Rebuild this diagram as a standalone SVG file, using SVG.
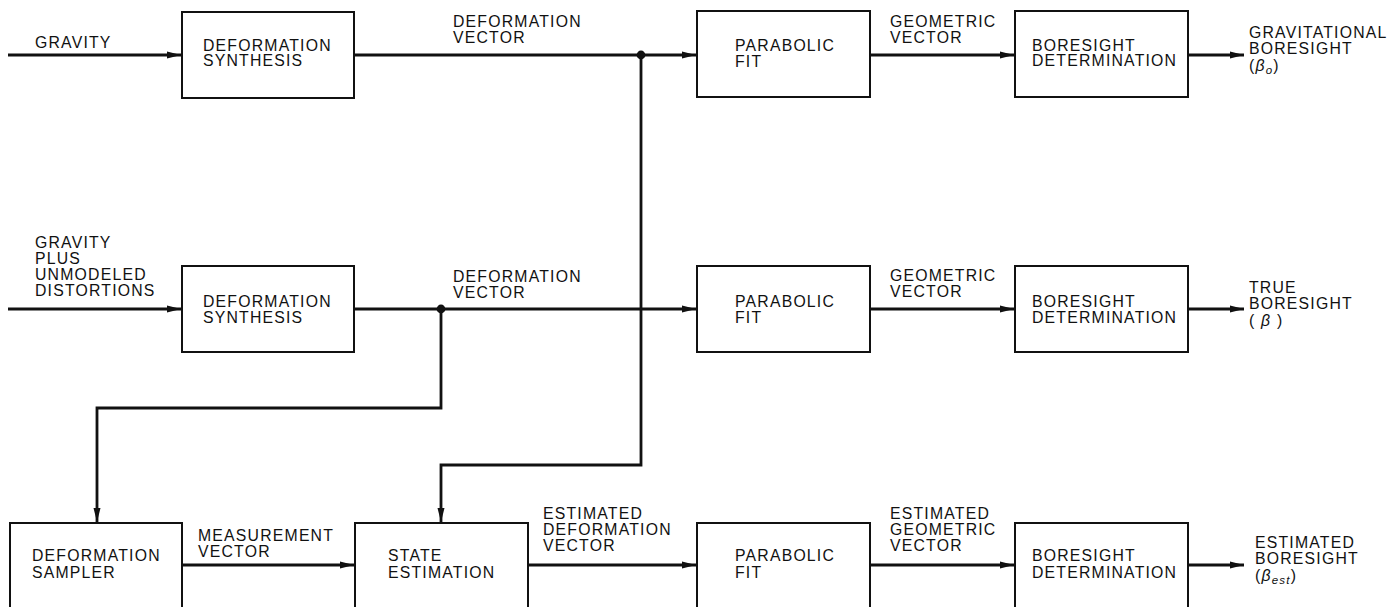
<svg xmlns="http://www.w3.org/2000/svg" width="1400" height="607" viewBox="0 0 1400 607">
<defs>
<style>
text{font-family:"Liberation Sans",Arial,sans-serif;font-size:15.8px;letter-spacing:1.2px;fill:#111}
.box{fill:#fff;stroke:#111;stroke-width:2}
.wire{fill:none;stroke:#111;stroke-width:2.8}
.it{font-style:italic}
.sub{font-size:11.5px;font-style:italic}
</style>
<marker id="ah" markerWidth="15" markerHeight="9" refX="14" refY="4.5" orient="auto" markerUnits="userSpaceOnUse">
<path d="M0,1 L14,4.5 L0,8 z" fill="#111"/>
</marker>
</defs>
<rect width="1400" height="607" fill="#fff"/>

<g id="connectors">
<path class="wire" d="M8,55 H181" marker-end="url(#ah)"/>
<path class="wire" d="M354,55 H696" marker-end="url(#ah)"/>
<path class="wire" d="M870,55 H1014" marker-end="url(#ah)"/>
<path class="wire" d="M1188,55 H1244" marker-end="url(#ah)"/>
<path class="wire" d="M8,309 H181" marker-end="url(#ah)"/>
<path class="wire" d="M354,309 H696" marker-end="url(#ah)"/>
<path class="wire" d="M870,309 H1014" marker-end="url(#ah)"/>
<path class="wire" d="M1188,309 H1244" marker-end="url(#ah)"/>
<path class="wire" d="M182,565 H354" marker-end="url(#ah)"/>
<path class="wire" d="M528,565 H696" marker-end="url(#ah)"/>
<path class="wire" d="M870,565 H1014" marker-end="url(#ah)"/>
<path class="wire" d="M1188,565 H1244" marker-end="url(#ah)"/>
<path class="wire" d="M441,309 V408 H97 V522" marker-end="url(#ah)"/>
<path class="wire" d="M641,55 V465 H441 V522" marker-end="url(#ah)"/>
<circle cx="641" cy="55" r="4.4" fill="#111"/>
<circle cx="441" cy="309" r="4.4" fill="#111"/>
<text x="35" y="48">GRAVITY</text>
<text x="453" y="27">DEFORMATION</text>
<text x="453" y="43">VECTOR</text>
<text x="890" y="27">GEOMETRIC</text>
<text x="890" y="43">VECTOR</text>
<text x="1249" y="38">GRAVITATIONAL</text>
<text x="1249" y="54">BORESIGHT</text>
<text x="1249" y="71">(<tspan class="it">β</tspan><tspan class="sub" dy="3">o</tspan><tspan dy="-3">)</tspan></text>
<text x="35" y="248">GRAVITY</text>
<text x="35" y="264">PLUS</text>
<text x="35" y="280">UNMODELED</text>
<text x="35" y="296">DISTORTIONS</text>
<text x="453" y="282">DEFORMATION</text>
<text x="453" y="298">VECTOR</text>
<text x="890" y="281">GEOMETRIC</text>
<text x="890" y="297">VECTOR</text>
<text x="1249" y="293">TRUE</text>
<text x="1249" y="309">BORESIGHT</text>
<text x="1249" y="326">( <tspan class="it">β</tspan> )</text>
<text x="198" y="541">MEASUREMENT</text>
<text x="198" y="557">VECTOR</text>
<text x="543" y="519">ESTIMATED</text>
<text x="543" y="535">DEFORMATION</text>
<text x="543" y="551">VECTOR</text>
<text x="890" y="519">ESTIMATED</text>
<text x="890" y="535">GEOMETRIC</text>
<text x="890" y="551">VECTOR</text>
<text x="1255" y="548">ESTIMATED</text>
<text x="1255" y="564">BORESIGHT</text>
<text x="1255" y="581">(<tspan class="it">β</tspan><tspan class="sub" dy="3">est</tspan><tspan dy="-3">)</tspan></text>
</g>

<g id="ds1"><rect class="box" x="182" y="12" width="172" height="86"/><text x="203" y="51">DEFORMATION</text><text x="203" y="66">SYNTHESIS</text></g>
<g id="pf1"><rect class="box" x="697" y="11" width="173" height="86"/><text x="735" y="51">PARABOLIC</text><text x="735" y="67">FIT</text></g>
<g id="bd1"><rect class="box" x="1015" y="11" width="173" height="86"/><text x="1032" y="51">BORESIGHT</text><text x="1032" y="66">DETERMINATION</text></g>

<g id="ds2"><rect class="box" x="182" y="266" width="172" height="86"/><text x="203" y="307">DEFORMATION</text><text x="203" y="323">SYNTHESIS</text></g>
<g id="pf2"><rect class="box" x="697" y="266" width="173" height="86"/><text x="735" y="307">PARABOLIC</text><text x="735" y="323">FIT</text></g>
<g id="bd2"><rect class="box" x="1015" y="266" width="173" height="86"/><text x="1032" y="307">BORESIGHT</text><text x="1032" y="323">DETERMINATION</text></g>

<g id="dsampler"><rect class="box" x="10" y="523" width="172" height="90"/><text x="32" y="561">DEFORMATION</text><text x="32" y="578">SAMPLER</text></g>
<g id="se"><rect class="box" x="355" y="523" width="173" height="90"/><text x="388" y="561">STATE</text><text x="388" y="578">ESTIMATION</text></g>
<g id="pf3"><rect class="box" x="697" y="523" width="173" height="90"/><text x="735" y="561">PARABOLIC</text><text x="735" y="578">FIT</text></g>
<g id="bd3"><rect class="box" x="1015" y="523" width="173" height="90"/><text x="1032" y="561">BORESIGHT</text><text x="1032" y="578">DETERMINATION</text></g>
</svg>
